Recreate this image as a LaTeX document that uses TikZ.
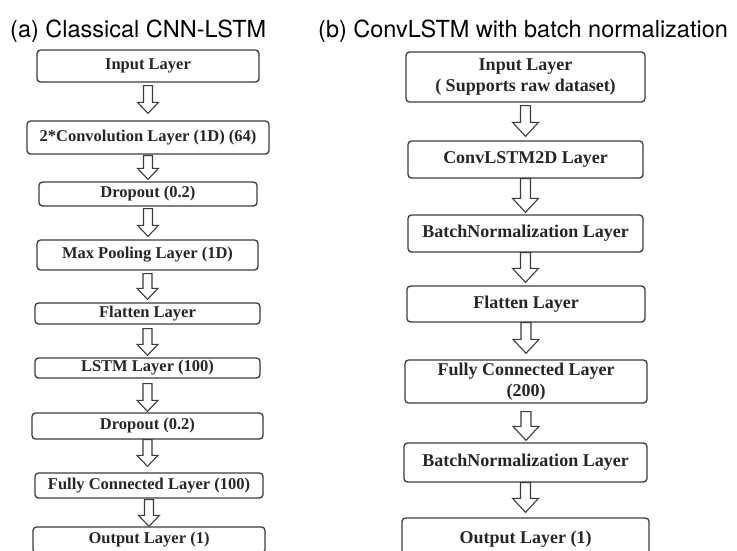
\documentclass[tikz,border=0pt]{standalone}
\usepackage{fontspec}
\setmainfont{Liberation Serif}
\newfontfamily\titlefont{TeX Gyre Heros}
\usetikzlibrary{calc}
\definecolor{boxgray}{HTML}{3C3C3C}
\definecolor{txtgray}{HTML}{262626}
% #1 from node, #2 to node, #3 start offset, #4 end offset, #5 shaft half width, #6 head half width, #7 head length
\newcommand{\hollowarr}[7]{%
  \path[arrline] let \p1=($(#1.south)+(0,#3)$), \p2=($(#2.north)+(0,-#4)$) in
    (\x1-#5pt,\y1) -- (\x1+#5pt,\y1) -- (\x1+#5pt,\y2+#7pt) -- (\x1+#6pt,\y2+#7pt)
    -- (\x1,\y2) -- (\x1-#6pt,\y2+#7pt) -- (\x1-#5pt,\y2+#7pt) -- cycle;}
\begin{document}
\begin{tikzpicture}[x=1pt,y=-1pt,
  layer/.style={draw=boxgray, line width=1.3pt, rounded corners=3.5pt, inner sep=0pt,
    align=center, text=txtgray, font=\bfseries\fontsize{16.5}{19}\selectfont},
  layerR/.style={layer, font=\bfseries\fontsize{18}{21.5}\selectfont},
  arrline/.style={draw=boxgray, line width=1.1pt, fill=white, line join=miter},
  title/.style={font=\titlefont\fontsize{23.5}{28}\selectfont, anchor=base west,
    inner sep=0pt, text=black}]
\useasboundingbox (0,0) rectangle (737,550);
\clip (0,0) rectangle (737,550);

\node[title] (ta) at (10,37) {(a) Classical CNN-LSTM};
\node[title] (tb) at (318,37) {(b) ConvLSTM with batch normalization};

% left column
\node[layer, minimum width=222, minimum height=32] (l1) at (148,66) {Input Layer};
\node[layer, minimum width=242, minimum height=33] (l2) at (148,137.5) {2*Convolution Layer (1D) (64)};
\node[layer, minimum width=218, minimum height=24] (l3) at (148,194) {Dropout (0.2)};
\node[layer, minimum width=221, minimum height=30] (l4) at (147.5,255) {Max Pooling Layer (1D)};
\node[layer, minimum width=225, minimum height=21] (l5) at (147.5,313.5) {Flatten Layer};
\node[layer, minimum width=225, minimum height=20] (l6) at (147.5,368) {LSTM Layer (100)};
\node[layer, minimum width=231, minimum height=26] (l7) at (147.5,426) {Dropout (0.2)};
\node[layer, minimum width=228, minimum height=25] (l8) at (149,485.5) {Fully Connected Layer (100)};
\node[layer, minimum width=232, minimum height=26] (l9) at (149,540) {Output Layer (1)};

\hollowarr{l1}{l2}{3}{7}{4.5}{10.5}{11}
\hollowarr{l2}{l3}{1}{2}{4.5}{10.5}{11}
\hollowarr{l3}{l4}{2}{3}{4.5}{10.5}{11}
\hollowarr{l4}{l5}{3}{3}{4.5}{10.5}{11}
\hollowarr{l5}{l6}{4}{2}{4.5}{10.5}{11}
\hollowarr{l6}{l7}{5}{1}{4.5}{10.5}{11}
\hollowarr{l7}{l8}{0}{6}{4.5}{10.5}{11}
\hollowarr{l8}{l9}{1}{0}{4.5}{10.5}{11}

% right column
\node[layerR, minimum width=239, minimum height=50] (r1) at (525.5,77) {Input Layer\\( Supports raw dataset)};
\node[layerR, minimum width=235, minimum height=37] (r2) at (525.5,159.5) {ConvLSTM2D Layer};
\node[layerR, minimum width=235, minimum height=37] (r3) at (525.5,233.5) {BatchNormalization Layer};
\node[layerR, minimum width=238, minimum height=36] (r4) at (526,304) {Flatten Layer};
\node[layerR, minimum width=242, minimum height=43] (r5) at (526,381.5) {Fully Connected Layer\\(200)};
\node[layerR, minimum width=243, minimum height=39] (r6) at (525.5,462.5) {BatchNormalization Layer};
\node[layerR, minimum width=247, minimum height=42] (r7) at (525.5,539) {Output Layer (1)};

\hollowarr{r1}{r2}{3}{4}{5}{13}{14}
\hollowarr{r2}{r3}{0}{2}{5}{13}{14}
\hollowarr{r3}{r4}{0}{3}{5}{13}{14}
\hollowarr{r4}{r5}{0}{6}{5}{13}{14}
\hollowarr{r5}{r6}{8}{2}{5}{13}{14}
\hollowarr{r6}{r7}{0}{5}{5}{13}{14}
\end{tikzpicture}
\end{document}
